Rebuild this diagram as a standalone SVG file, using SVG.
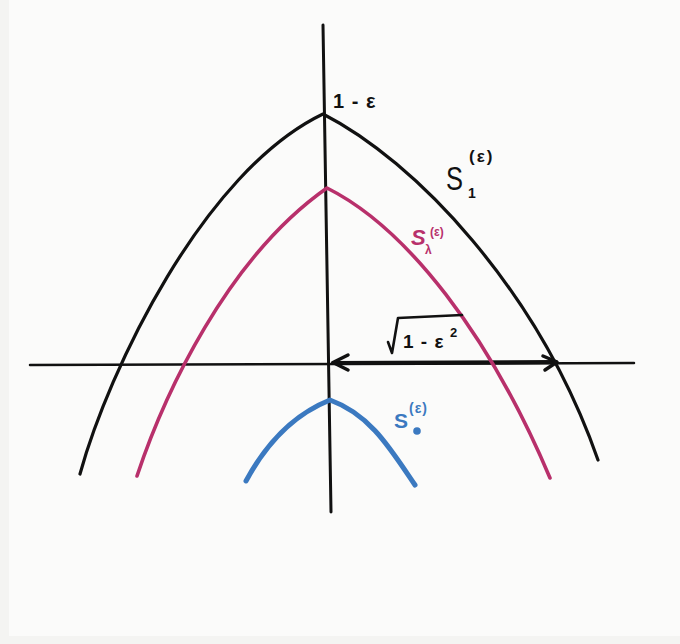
<svg xmlns="http://www.w3.org/2000/svg" width="680" height="644" viewBox="0 0 680 644">
  <defs>
    <style>
      .ink { fill: none; stroke-linecap: round; stroke-linejoin: round; }
      .blk { stroke: #111111; }
      .mag { stroke: #b8306b; }
      .blu { stroke: #3b79c0; }
      .t { font-family: "Liberation Sans", "DejaVu Sans", sans-serif; }
      .tb { fill: #111111; }
      .tm { fill: #b8306b; font-weight: bold; }
      .tu { fill: #3b79c0; font-weight: bold; }
    </style>
  </defs>
  <rect x="0" y="0" width="680" height="644" fill="#f4f4f2"/>
  <rect x="9" y="0" width="671" height="636" fill="#fbfbfa"/>

  <g id="connectors">
    <path class="ink blk" stroke-width="3" d="M323,25 L331,512"/>
    <path class="ink blk" stroke-width="2.5" d="M30,365 L634,363"/>
    <path class="ink blk" stroke-width="4" d="M333,363 L556,362"/>
    <path class="ink blk" stroke-width="3.5" d="M348,355 L333,362.5 L348,370"/>
    <path class="ink blk" stroke-width="3.5" d="M543,356 L557,362 L545,370"/>
  </g>

  <g id="curve-s1">
    <path class="ink blk" stroke-width="3.2" d="M80,474 C108.6,370.6 203,171.6 323,114 C415,161 538,289 598,460"/>
  </g>
  <g id="curve-slambda">
    <path class="ink mag" stroke-width="3.6" d="M137,476 C164,395 227,258 327,188 C407,228 490,335.8 550,478"/>
  </g>
  <g id="curve-s0">
    <path class="ink blu" stroke-width="5" d="M246,481 C264.2,447.2 290,416 330,400 C370,414.4 390,448 415,485"/>
  </g>

  <g id="label-apex">
    <text class="t tb" x="333" y="108" font-size="20" font-weight="bold" letter-spacing="1">1 - ε</text>
  </g>
  <g id="label-s1">
    <text class="t tb" x="446" y="190" font-size="34" textLength="17" lengthAdjust="spacingAndGlyphs">S</text>
    <text class="t tb" x="468" y="198" font-size="14" font-weight="bold">1</text>
    <text class="t tb" x="469" y="162" font-size="17" font-weight="bold" letter-spacing="2">(ε)</text>
  </g>
  <g id="label-slambda">
    <text class="t tm" x="411" y="245" font-size="22" font-style="italic">S</text>
    <text class="t tm" x="425" y="254" font-size="12">λ</text>
    <text class="t tm" x="430" y="236" font-size="12">(ε)</text>
  </g>
  <g id="label-s0">
    <text class="t tu" x="394" y="428" font-size="21" font-weight="normal">S</text>
    <circle cx="417" cy="431" r="3.8" fill="#3b79c0"/>
    <text class="t tu" x="409" y="413" font-size="14" letter-spacing="1">(ε)</text>
  </g>
  <g id="label-sqrt">
    <path class="ink blk" stroke-width="2.6" d="M388,342 L392,353 L398,318 L462,315"/>
    <text class="t tb" x="403" y="348" font-size="19" font-weight="bold" letter-spacing="1">1 - ε</text>
    <text class="t tb" x="450" y="337" font-size="13" font-weight="bold">2</text>
  </g>
</svg>
